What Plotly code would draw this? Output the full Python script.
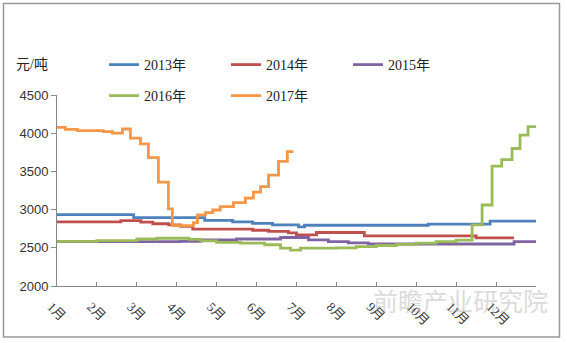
import plotly.graph_objects as go

# Monthly position (0 = start of January) and price (元/吨) at each step change
months = ["1月", "2月", "3月", "4月", "5月", "6月", "7月", "8月", "9月", "10月", "11月", "12月"]

x_2013 = [0, 1.92, 3.70, 4.40, 4.90, 5.40, 6.05, 6.20, 9.30, 10.85, 12.0]
y_2013 = [2935, 2895, 2860, 2840, 2820, 2800, 2775, 2795, 2810, 2850, 2850]

x_2014 = [0, 1.60, 2.10, 2.40, 2.80, 3.10, 3.40, 4.90, 5.30, 5.80, 6.00, 6.50, 7.70, 10.50, 11.45]
y_2014 = [2840, 2855, 2835, 2815, 2800, 2780, 2745, 2730, 2715, 2695, 2670, 2700, 2655, 2630, 2630]

x_2015 = [0, 3.10, 3.60, 4.50, 5.60, 6.30, 6.80, 7.30, 7.80, 11.45, 12.0]
y_2015 = [2580, 2585, 2605, 2615, 2635, 2605, 2580, 2565, 2550, 2580, 2580]

x_2016 = [0, 1.00, 2.00, 2.50, 3.30, 3.60, 4.00, 4.60, 5.20, 5.60, 5.85, 6.10, 7.00, 7.50,
          8.00, 8.50, 9.00, 9.50, 10.00, 10.40, 10.65, 10.90, 11.14, 11.40, 11.60, 11.80, 12.0]
y_2016 = [2585, 2595, 2615, 2625, 2610, 2590, 2570, 2560, 2540, 2495, 2470, 2495, 2500, 2515,
          2530, 2545, 2560, 2580, 2600, 2800, 3060, 3570, 3655, 3800, 3975, 4085, 4085]

x_2017 = [0, 0.21, 0.51, 1.16, 1.39, 1.64, 1.84, 2.09, 2.29, 2.54, 2.79, 2.89, 3.42, 3.52,
          3.72, 3.90, 4.09, 4.42, 4.72, 4.92, 5.10, 5.30, 5.55, 5.77, 5.92]
y_2017 = [4075, 4050, 4035, 4020, 4000, 4055, 3935, 3860, 3680, 3360, 3010, 2790, 2830, 2930,
          2960, 2995, 3040, 3090, 3150, 3230, 3300, 3450, 3630, 3760, 3760]

series = [
    ("2013年", x_2013, y_2013, "#4F81BD", "legend"),
    ("2014年", x_2014, y_2014, "#C0504D", "legend"),
    ("2015年", x_2015, y_2015, "#8064A2", "legend"),
    ("2016年", x_2016, y_2016, "#9BBB59", "legend2"),
    ("2017年", x_2017, y_2017, "#F79646", "legend2"),
]

W, H = 567, 343
L, R, T, B = 57, 31, 95, 57
PW, PH = W - L - R, H - T - B


def px_x(p):
    return (p - L) / PW


def px_y(p):
    return (H - B - p) / PH


fig = go.Figure()
for name, xs, ys, color, leg in series:
    fig.add_trace(go.Scatter(
        x=xs, y=ys, name=name, mode="lines", line_shape="hv",
        line=dict(color=color, width=2.8), legend=leg,
    ))

serif = "Times New Roman, Liberation Serif, Noto Sans CJK SC"
sans = "Arial, Liberation Sans, Noto Sans CJK SC"

legend_common = dict(
    orientation="h", xanchor="left", yanchor="middle",
    font=dict(family=serif, size=14, color="#222"),
    entrywidth=77, entrywidthmode="pixels",
    bgcolor="rgba(0,0,0,0)", itemclick=False, itemdoubleclick=False,
)

fig.update_layout(
    width=W, height=H,
    margin=dict(l=L, r=R, t=T, b=B),
    paper_bgcolor="white", plot_bgcolor="white",
    legend=dict(x=px_x(104), y=px_y(65), **legend_common),
    legend2=dict(x=px_x(104), y=px_y(96), **legend_common),
    xaxis=dict(
        range=[0, 12], tickvals=list(range(13)), ticktext=months + [""],
        tickangle=45, ticks="inside", ticklen=4, tickcolor="#888",
        ticklabelshift=-6, ticklabelstandoff=7,
        showline=True, linecolor="#888", linewidth=1, showgrid=False, zeroline=False,
        tickfont=dict(family=serif, size=13, color="#333"),
    ),
    yaxis=dict(
        range=[2000, 4500], dtick=500, ticks="outside", ticklen=5, tickcolor="#888",
        showline=True, linecolor="#888", linewidth=1, showgrid=False, zeroline=False,
        tickfont=dict(family=sans, size=13, color="#333"),
    ),
    annotations=[
        dict(text="元/吨", xref="paper", yref="paper", x=px_x(14), y=px_y(65),
             xanchor="left", yanchor="middle", showarrow=False,
             font=dict(family=serif, size=14, color="#222")),
        dict(text="前瞻产业研究院", xref="paper", yref="paper", x=px_x(550), y=px_y(300),
             xanchor="right", yanchor="middle", showarrow=False,
             font=dict(family="Noto Sans CJK SC", size=25, color="rgba(160,160,160,0.4)")),
    ],
    shapes=[
        dict(type="rect", xref="paper", yref="paper",
             x0=px_x(3.5), x1=px_x(559.5), y0=px_y(337), y1=px_y(3.5),
             line=dict(color="#999", width=1.5), layer="below"),
    ],
)

fig.write_html("out.html")
